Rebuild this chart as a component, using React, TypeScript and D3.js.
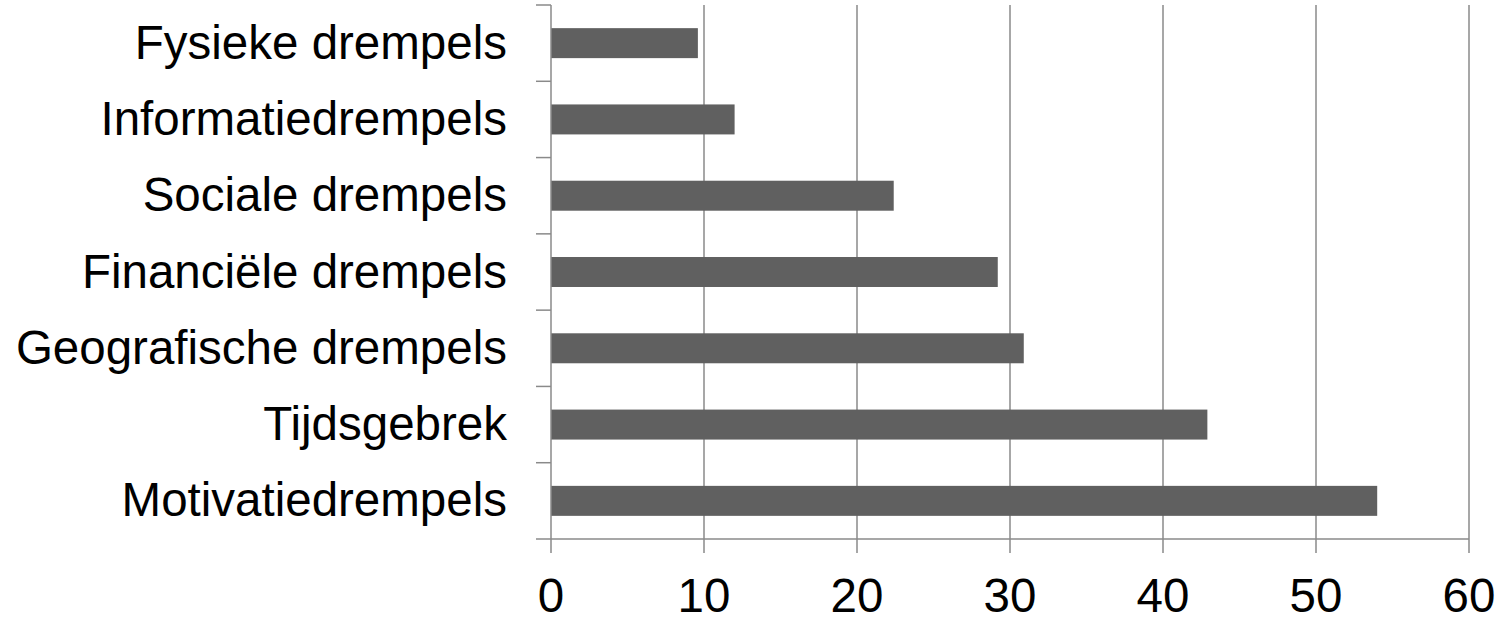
import React from "react";
import * as d3 from "d3";

const categories = [
  "Fysieke drempels",
  "Informatiedrempels",
  "Sociale drempels",
  "Financiële drempels",
  "Geografische drempels",
  "Tijdsgebrek",
  "Motivatiedrempels",
];
const values = [9.6, 12.0, 22.4, 29.2, 30.9, 42.9, 54.0];
const xTicks = [0, 10, 20, 30, 40, 50, 60];

const W = 1503;
const H = 617;
const left = 551;
const right = 1469;
const top = 5;
const bottom = 539;
const FONT = "'Liberation Sans', Arial, sans-serif";
const axisColor = "#8a8a8a";

export default function App() {
  const x = d3.scaleLinear().domain([0, 60]).range([left, right]);
  const y = d3
    .scaleBand<string>()
    .domain(categories)
    .range([top, bottom])
    .paddingInner(0.607)
    .paddingOuter(0.3035);
  const step = y.step();

  return (
    <svg
      width={W}
      height={H}
      style={{ position: "absolute", left: 0, top: 0, background: "#fff" }}
    >
      {xTicks.slice(1).map((t) => (
        <line
          key={"g" + t}
          x1={x(t)}
          x2={x(t)}
          y1={top}
          y2={bottom}
          stroke={axisColor}
          strokeWidth={1.5}
        />
      ))}
      {categories.map((c, i) => (
        <rect
          key={c}
          x={x(0)}
          y={y(c)!}
          width={x(values[i]) - x(0)}
          height={y.bandwidth()}
          fill="#606060"
        />
      ))}
      <line x1={left} x2={left} y1={top} y2={bottom} stroke={axisColor} strokeWidth={1.5} />
      {d3.range(categories.length + 1).map((i) => (
        <line
          key={"yt" + i}
          x1={left - 15}
          x2={left}
          y1={top + i * step}
          y2={top + i * step}
          stroke={axisColor}
          strokeWidth={1.5}
        />
      ))}
      <line x1={left} x2={right} y1={bottom} y2={bottom} stroke={axisColor} strokeWidth={1.5} />
      {xTicks.map((t) => (
        <line
          key={"xt" + t}
          x1={x(t)}
          x2={x(t)}
          y1={bottom}
          y2={bottom + 14}
          stroke={axisColor}
          strokeWidth={1.5}
        />
      ))}
      {xTicks.map((t) => (
        <text
          key={"xl" + t}
          x={x(t)}
          y={612}
          textAnchor="middle"
          fontFamily={FONT}
          fontSize={47.5}
          fill="#000"
        >
          {t}
        </text>
      ))}
      {categories.map((c) => (
        <text
          key={"yl" + c}
          x={507}
          y={y(c)! + y.bandwidth() / 2 + 15.5}
          textAnchor="end"
          fontFamily={FONT}
          fontSize={47.5}
          fill="#000"
        >
          {c}
        </text>
      ))}
    </svg>
  );
}
